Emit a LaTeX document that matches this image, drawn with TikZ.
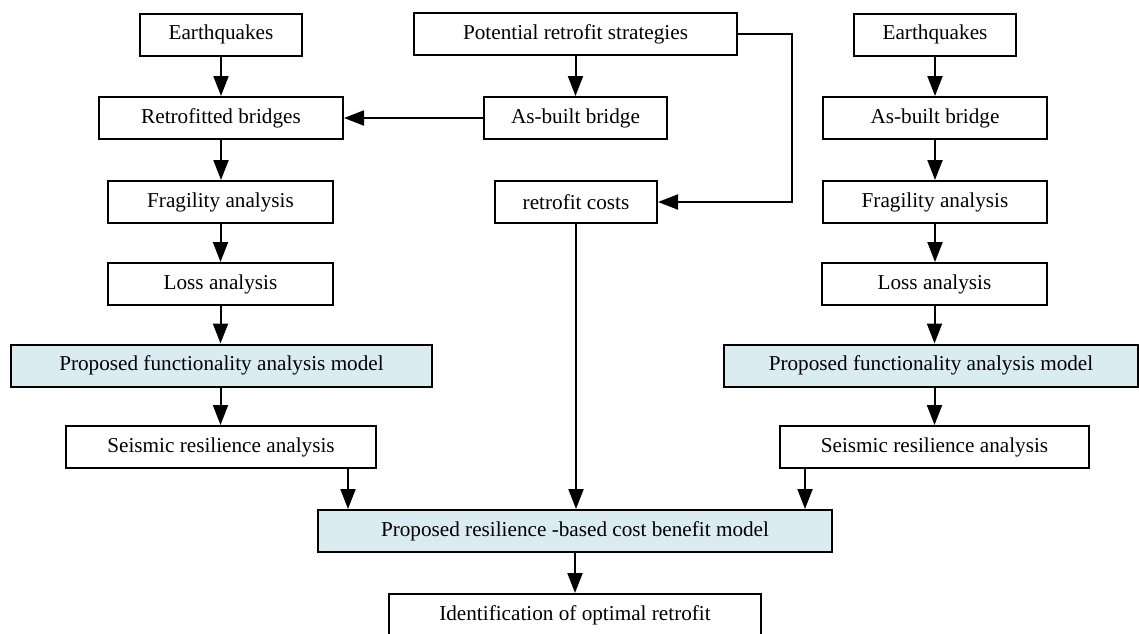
\documentclass[tikz,border=0pt]{standalone}
\usepackage{fontspec}
\setmainfont{Liberation Serif}
\usepackage{xcolor}
\usetikzlibrary{arrows.meta, positioning}
\definecolor{modelblue}{RGB}{218, 235, 241}

\tikzset{
    box/.style={draw, line width=1pt, fill=white, minimum height=21pt, inner sep=0pt,
                font=\fontsize{10.6}{12}\selectfont},
    modelbox/.style={box, fill=modelblue},
    flow/.style={-{Triangle[length=10pt, width=7.5pt]}, line width=1pt}
}

\begin{document}
\begin{tikzpicture}[x=0.5pt, y=-0.5pt]
    \useasboundingbox (0,0) rectangle (1139,633);

    % left column: retrofitted bridges
    \node[box, minimum width=81pt] (eqL) at (221,34.5) {Earthquakes};
    \node[box, minimum width=122pt] (retroL) at (221,118) {Retrofitted bridges};
    \node[box, minimum width=112.5pt] (fragL) at (220.5,202) {Fragility analysis};
    \node[box, minimum width=112.5pt] (lossL) at (220.5,284) {Loss analysis};
    \node[modelbox, minimum width=210.5pt] (funcL) at (221.5,365.5) {Proposed functionality analysis model};
    \node[box, minimum width=155pt] (seisL) at (221,447) {Seismic resilience analysis};

    % middle column
    \node[box, minimum width=161.5pt] (potS) at (575.5,34) {Potential retrofit strategies};
    \node[box, minimum width=91.5pt] (asB) at (575.5,118) {As-built bridge};
    \node[box, minimum width=81pt] (costs) at (576,202) {retrofit costs};
    \node[modelbox, minimum width=257pt] (cbm) at (575,531) {Proposed resilience -based cost benefit model};
    \node[box, minimum width=186pt] (ident) at (575,615) {Identification of optimal retrofit};

    % right column: as-built bridge
    \node[box, minimum width=81pt] (eqR) at (935,34.5) {Earthquakes};
    \node[box, minimum width=112pt] (asBR) at (935,118) {As-built bridge};
    \node[box, minimum width=112pt] (fragR) at (935,202) {Fragility analysis};
    \node[box, minimum width=112.5pt] (lossR) at (934.5,284) {Loss analysis};
    \node[modelbox, minimum width=207pt] (funcR) at (931,365.5) {Proposed functionality analysis model};
    \node[box, minimum width=154.5pt] (seisR) at (934.5,447) {Seismic resilience analysis};

    \coordinate (bend) at (792,34);
    \coordinate (seisLout) at ([xshift=-14.5pt]seisL.south east);
    \coordinate (seisRout) at ([xshift=13pt]seisR.south west);

    % arrows
    \draw[flow] (eqL) -- (eqL |- retroL.north);
    \draw[flow] (retroL) -- (retroL |- fragL.north);
    \draw[flow] (fragL) -- (fragL |- lossL.north);
    \draw[flow] (lossL) -- (lossL |- funcL.north);
    \draw[flow] (lossL |- funcL.south) -- (lossL |- seisL.north);

    \draw[flow] (potS) -- (potS |- asB.north);
    \draw[flow] (asB.west) -- (retroL.east);
    \draw[flow] (potS.east) -- (bend) |- (costs.east);
    \draw[flow] (costs) -- (costs |- cbm.north);
    \draw[flow] (cbm) -- (cbm |- ident.north);

    \draw[flow] (eqR) -- (eqR |- asBR.north);
    \draw[flow] (asBR) -- (asBR |- fragR.north);
    \draw[flow] (fragR) -- (fragR |- lossR.north);
    \draw[flow] (lossR) -- (lossR |- funcR.north);
    \draw[flow] (lossR |- funcR.south) -- (lossR |- seisR.north);

    \draw[flow] (seisLout) -- (seisLout |- cbm.north);
    \draw[flow] (seisRout) -- (seisRout |- cbm.north);
\end{tikzpicture}
\end{document}
